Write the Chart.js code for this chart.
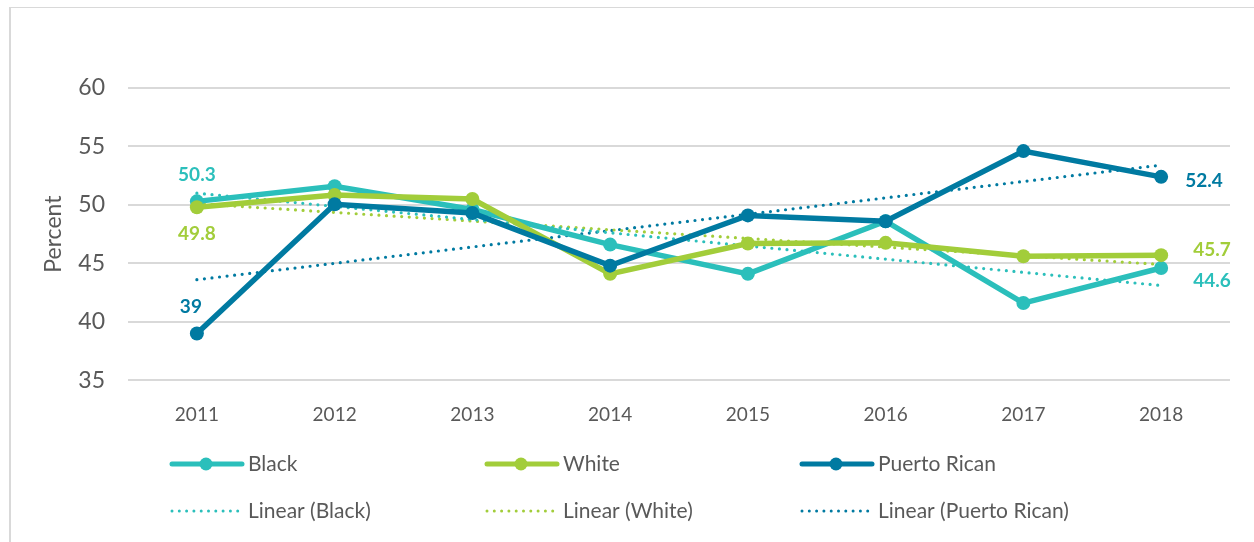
<!DOCTYPE html>
<html>
<head>
<meta charset="utf-8">
<script src="https://cdn.jsdelivr.net/npm/chart.js@4.4.1/dist/chart.umd.min.js"></script>
<style>
  html, body { margin: 0; padding: 0; background: #fff; }
  #wrap { position: relative; width: 1254px; height: 542px; }
  #frame { position: absolute; left: 9px; top: 7px; right: 0; bottom: 0;
           border-left: 2px solid #d9d9d9; border-top: 1px solid #d9d9d9; }
</style>
</head>
<body>
<div id="wrap">
  <div id="frame"></div>
  <canvas id="grafica" width="1254" height="542"></canvas>
</div>
<script>
// datos
const years = ["2011", "2012", "2013", "2014", "2015", "2016", "2017", "2018"];
const black = [50.3, 51.6, 49.6, 46.6, 44.1, 48.6, 41.6, 44.6];
const white = [49.8, 50.85, 50.5, 44.1, 46.7, 46.75, 45.6, 45.7];
const puertoRican = [39.0, 50.05, 49.3, 44.8, 49.1, 48.6, 54.6, 52.4];
// tendencias lineales (extremos)
const trendBlack = [51.0, null, null, null, null, null, null, 43.1];
const trendWhite = [50.1, null, null, null, null, null, null, 44.9];
const trendPuertoRican = [43.6, null, null, null, null, null, null, 53.4];

const colores = {
  black: "#2bbfbb",
  white: "#a2cd3a",
  pr: "#007aa1"
};
const fuente = "Lato, 'Open Sans', sans-serif";
const gris = "#595959";

function serie(label, data, color, order) {
  return {
    label, data, order,
    borderColor: color, backgroundColor: color,
    borderWidth: 5.5, pointRadius: 7, pointHoverRadius: 7,
    pointBorderWidth: 0, tension: 0
  };
}
function tendencia(label, data, color) {
  return {
    label, data, order: 5,
    borderColor: color, backgroundColor: color,
    borderWidth: 3.2, borderDash: [0, 7.6], borderCapStyle: "round",
    pointRadius: 0, spanGaps: true, tension: 0
  };
}

// etiquetas de datos
const etiquetas = [
  { ds: 0, i: 0, dx: 0, dy: -26, align: "center" },
  { ds: 1, i: 0, dx: 0, dy: 27, align: "center" },
  { ds: 2, i: 0, dx: -6, dy: -27, align: "center" },
  { ds: 2, i: 7, dx: 24, dy: 4, align: "left" },
  { ds: 1, i: 7, dx: 32, dy: -5, align: "left" },
  { ds: 0, i: 7, dx: 32, dy: 13, align: "left" }
];

const pluginEtiquetas = {
  id: "etiquetas",
  afterDatasetsDraw(chart) {
    const ctx = chart.ctx;
    ctx.save();
    ctx.font = "bold 19px " + fuente;
    ctx.textBaseline = "middle";
    etiquetas.forEach(e => {
      const ds = chart.data.datasets[e.ds];
      const pt = chart.getDatasetMeta(e.ds).data[e.i];
      ctx.fillStyle = ds.borderColor;
      ctx.textAlign = e.align;
      ctx.fillText(String(ds.data[e.i]), pt.x + e.dx, pt.y + e.dy);
    });
    ctx.restore();
  }
};

// leyenda en dos filas
const pluginLeyenda = {
  id: "leyendaPropia",
  afterDraw(chart) {
    const ctx = chart.ctx;
    const cols = [170, 485, 800];
    const filas = [464, 511];
    ctx.save();
    ctx.font = "21px " + fuente;
    ctx.textBaseline = "middle";
    ctx.textAlign = "left";
    chart.data.datasets.forEach((ds, k) => {
      const x = cols[k % 3];
      const y = filas[Math.floor(k / 3)];
      ctx.strokeStyle = ds.borderColor;
      ctx.fillStyle = ds.borderColor;
      ctx.lineCap = "round";
      if (k < 3) {
        ctx.lineWidth = 5;
        ctx.setLineDash([]);
        ctx.beginPath(); ctx.moveTo(x + 2, y); ctx.lineTo(x + 72, y); ctx.stroke();
        ctx.beginPath(); ctx.arc(x + 36, y, 6.5, 0, Math.PI * 2); ctx.fill();
      } else {
        ctx.lineWidth = 3;
        ctx.setLineDash([0, 7.3]);
        ctx.beginPath(); ctx.moveTo(x + 2, y); ctx.lineTo(x + 68, y); ctx.stroke();
      }
      ctx.setLineDash([]);
      ctx.fillStyle = gris;
      ctx.fillText(ds.label, x + 78, y);
    });
    ctx.restore();
  }
};

new Chart(document.getElementById("grafica"), {
  type: "line",
  data: {
    labels: years,
    datasets: [
      serie("Black", black, colores.black, 2),
      serie("White", white, colores.white, 1),
      serie("Puerto Rican", puertoRican, colores.pr, 0),
      tendencia("Linear (Black)", trendBlack, colores.black),
      tendencia("Linear (White)", trendWhite, colores.white),
      tendencia("Linear (Puerto Rican)", trendPuertoRican, colores.pr)
    ]
  },
  options: {
    responsive: false,
    animation: false,
    events: [],
    layout: { padding: { top: 88, right: 24, bottom: 101, left: 0 } },
    plugins: {
      legend: { display: false },
      tooltip: { enabled: false }
    },
    scales: {
      x: {
        offset: true,
        grid: { display: false, drawBorder: false },
        border: { display: false },
        ticks: { color: gris, font: { family: fuente, size: 19 }, padding: 15 }
      },
      y: {
        min: 35, max: 60,
        afterFit(scale) { scale.width = 128; },
        grid: { color: "#d9d9d9", lineWidth: 2, drawTicks: false },
        border: { display: false },
        ticks: { stepSize: 5, color: gris, font: { family: fuente, size: 23 }, padding: 23 },
        title: {
          display: true, text: "Percent", color: gris,
          font: { family: fuente, size: 23 }, padding: { top: 40, bottom: 0 }
        }
      }
    }
  },
  plugins: [pluginEtiquetas, pluginLeyenda]
});
</script>
</body>
</html>
